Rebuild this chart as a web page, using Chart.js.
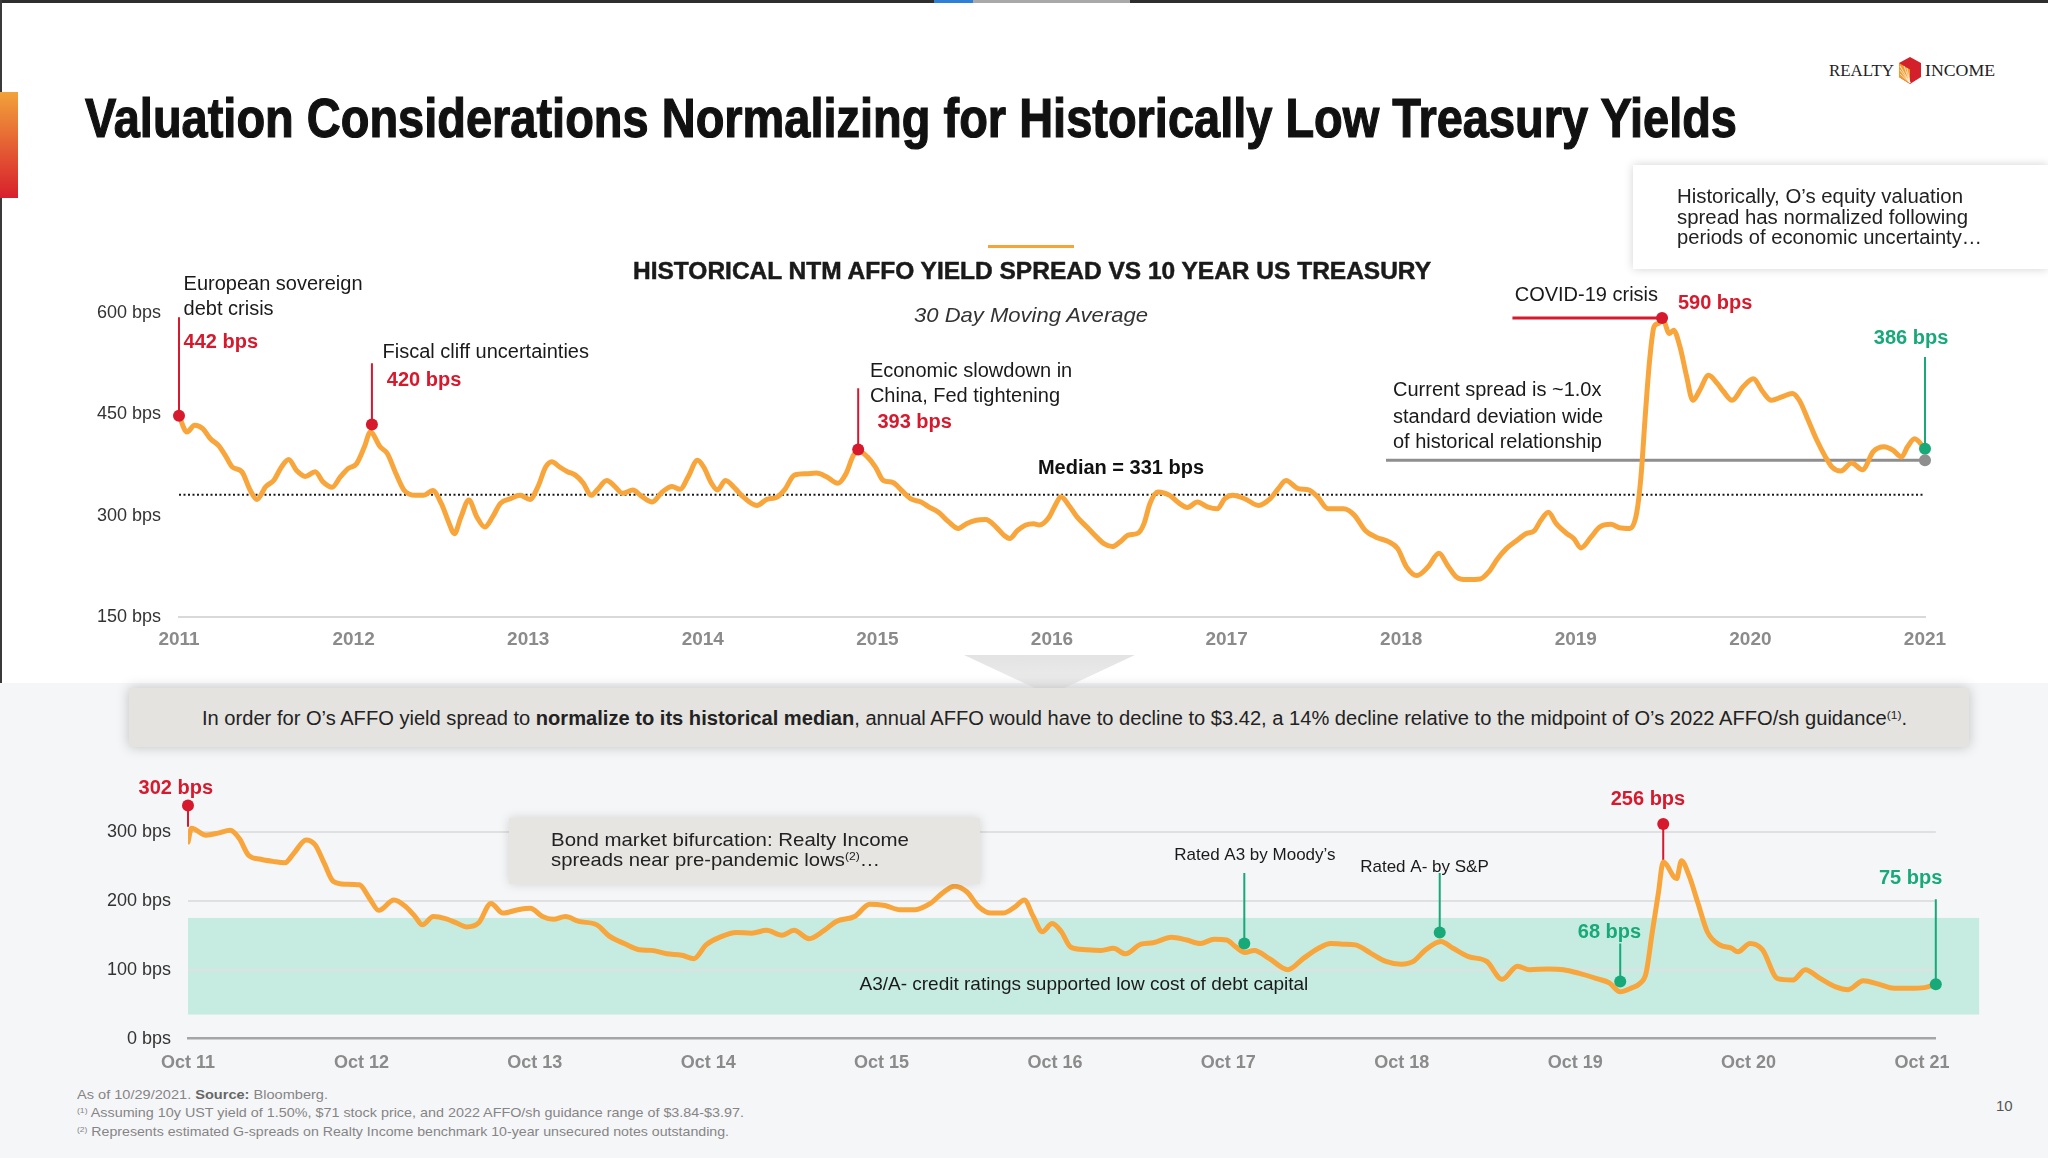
<!DOCTYPE html>
<html>
<head>
<meta charset="utf-8">
<script src="https://cdn.jsdelivr.net/npm/chart.js@4.4.1/dist/chart.umd.min.js"></script>
<style>
  html, body { margin: 0; padding: 0; }
  body {
    width: 2048px; height: 1158px; position: relative; overflow: hidden; background: #fff;
    font-family: "Liberation Sans", Arial, sans-serif; color: #1e1e1e;
  }
  .abs { position: absolute; }
  .t { position: absolute; white-space: nowrap; transform-origin: left center; }
  .t sup { font-size: 0.6em; vertical-align: 0.55em; line-height: 0; }
  .serif { font-family: "Liberation Serif", "DejaVu Serif", serif; }
  .chartbox { position: absolute; left: 0; width: 2048px; }
</style>
</head>
<body>

<!-- frame bits -->
<div class="abs" style="left:0;top:0;width:2048px;height:3px;background:#2e2e2e"></div>
<div class="abs" style="left:934px;top:0;width:39px;height:3px;background:#2f7fd6"></div>
<div class="abs" style="left:973px;top:0;width:157px;height:3px;background:#a9a9a9"></div>
<div class="abs" style="left:0;top:0;width:2px;height:686px;background:#3a3a3a"></div>
<div class="abs" style="left:0;top:92px;width:18px;height:106px;background:linear-gradient(#F2A23A,#D81F2D)"></div>

<!-- lower panel background, pointer and banner -->
<div class="abs" style="left:0;top:683px;width:2048px;height:475px;background:#F5F6F8"></div>
<div class="abs" style="left:964px;top:655px;width:171px;height:40px;background:linear-gradient(#e3e3e3,#efefef);clip-path:polygon(0 0,100% 0,50% 100%)"></div>
<div class="abs" style="left:129px;top:688px;width:1840px;height:59px;background:#E5E3E0;box-shadow:0 0 12px rgba(0,0,0,0.22)"></div>

<div class="chartbox" style="top:250px;height:420px"><canvas id="topChart"></canvas></div>
<div class="chartbox" style="top:754px;height:326px"><canvas id="bottomChart"></canvas></div>

<!-- title and logo -->
<div class="t" data-w="1652" style="left:85px;top:88px;font-size:55px;line-height:60px;font-weight:bold;color:#111;-webkit-text-stroke:1.2px #111">Valuation Considerations Normalizing for Historically Low Treasury Yields</div>
<div class="t serif" data-w="65" style="left:1829px;top:61px;font-size:16px;line-height:20px;color:#222">REALTY</div>
<svg class="abs" style="left:1899px;top:57px" width="22" height="27" viewBox="0 0 22 27">
  <polygon points="11,0 22,6 22,20 11,27 0,20 0,6" fill="#D4202A"/>
  <polygon points="0,6 11,12.5 11,27 0,20" fill="#F39A2C"/>
  <g stroke="#fff" stroke-width="0.7">
    <line x1="11" y1="26" x2="1" y2="9"/><line x1="11" y1="26" x2="1" y2="13"/>
    <line x1="11" y1="26" x2="1" y2="17"/><line x1="11" y1="26" x2="5" y2="9"/>
    <line x1="11" y1="26" x2="8" y2="11"/>
  </g>
</svg>
<div class="t serif" data-w="70" style="left:1925px;top:61px;font-size:16px;line-height:20px;color:#222">INCOME</div>

<!-- callout -->
<div class="abs" style="left:1633px;top:165px;width:415px;height:104px;background:#fff;box-shadow:0 0 9px rgba(0,0,0,0.18)"></div>
<div class="t" data-w="286" style="left:1677px;top:185px;font-size:19.5px;line-height:22px;color:#222">Historically, O’s equity valuation</div>
<div class="t" data-w="291" style="left:1677px;top:206px;font-size:19.5px;line-height:22px;color:#222">spread has normalized following</div>
<div class="t" data-w="305" style="left:1677px;top:226px;font-size:19.5px;line-height:22px;color:#222">periods of economic uncertainty…</div>

<!-- chart heading -->
<div class="abs" style="left:988px;top:245px;width:86px;height:3px;background:#F5A33B"></div>
<div class="t" data-w="798" style="left:633px;top:256px;font-size:24px;line-height:30px;font-weight:bold;color:#1a1a1a;-webkit-text-stroke:0.5px #1a1a1a">HISTORICAL NTM AFFO YIELD SPREAD VS 10 YEAR US TREASURY</div>
<div class="t" data-w="234" style="left:914px;top:302px;font-size:21px;line-height:26px;font-style:italic;color:#333">30 Day Moving Average</div>

<!-- banner text -->
<div class="t" data-w="1705" style="left:202px;top:706px;font-size:19.5px;line-height:24px;color:#222">In order for O’s AFFO yield spread to <b>normalize to its historical median</b>, annual AFFO would have to decline to $3.42, a 14% decline relative to the midpoint of O’s 2022 AFFO/sh guidance<sup>(1)</sup>.</div>

<!-- bond market box -->
<div class="abs" style="left:509px;top:818px;width:471px;height:66px;background:#E7E5E2;box-shadow:0 0 10px rgba(0,0,0,0.15)"></div>
<div class="t" data-w="358" style="left:551px;top:829px;font-size:19px;line-height:22px;color:#222">Bond market bifurcation: Realty Income</div>
<div class="t" data-w="329" style="left:551px;top:849px;font-size:19px;line-height:22px;color:#222">spreads near pre-pandemic lows<sup>(2)</sup>…</div>

<!-- footnotes -->
<div class="t" data-w="251" style="left:77px;top:1086px;font-size:13.5px;line-height:18px;color:#858585">As of 10/29/2021. <b style="color:#666">Source:</b> Bloomberg.</div>
<div class="t" data-w="667" style="left:77px;top:1104px;font-size:13.5px;line-height:18px;color:#858585"><sup>(1)</sup> Assuming 10y UST yield of 1.50%, $71 stock price, and 2022 AFFO/sh guidance range of $3.84-$3.97.</div>
<div class="t" data-w="652" style="left:77px;top:1123px;font-size:13.5px;line-height:18px;color:#858585"><sup>(2)</sup> Represents estimated G-spreads on Realty Income benchmark 10-year unsecured notes outstanding.</div>
<div class="t" style="left:1996px;top:1097px;font-size:15px;line-height:18px;color:#555">10</div>

<script>
// ---- top chart: NTM AFFO yield spread vs 10y UST, 30 day MA (bps) ----
var topYears = [
  2011, 2011.045, 2011.09, 2011.136, 2011.18, 2011.226, 2011.27, 2011.305, 2011.36, 2011.407, 2011.447, 2011.497,
  2011.542, 2011.587, 2011.628, 2011.673, 2011.723, 2011.78, 2011.825, 2011.877, 2011.926, 2011.97,
  2012.017, 2012.062, 2012.096, 2012.152, 2012.193, 2012.243, 2012.288, 2012.356, 2012.4, 2012.453, 2012.502,
  2012.548, 2012.577, 2012.615, 2012.66, 2012.706, 2012.751, 2012.796, 2012.841, 2012.898, 2012.954,
  2013.01, 2013.056, 2013.1, 2013.135, 2013.18, 2013.225, 2013.27, 2013.316, 2013.36, 2013.395, 2013.45,
  2013.497, 2013.54, 2013.6, 2013.643, 2013.71, 2013.768, 2013.824, 2013.87, 2013.915, 2013.97,
  2014.005, 2014.05, 2014.084, 2014.13, 2014.186, 2014.23, 2014.31, 2014.367, 2014.423, 2014.468, 2014.525,
  2014.593, 2014.65, 2014.706, 2014.774, 2014.82, 2014.864, 2014.898, 2014.943, 2014.989,
  2015.034, 2015.09, 2015.136, 2015.19, 2015.25, 2015.294, 2015.35, 2015.407, 2015.464, 2015.51, 2015.566,
  2015.62, 2015.68, 2015.724, 2015.758, 2015.803, 2015.85, 2015.894, 2015.928, 2015.984,
  2016.018, 2016.052, 2016.097, 2016.143, 2016.2, 2016.256, 2016.3, 2016.346, 2016.39, 2016.437, 2016.493,
  2016.527, 2016.561, 2016.606, 2016.674, 2016.73, 2016.776, 2016.833, 2016.89, 2016.946, 2016.99,
  2017.036, 2017.104, 2017.183, 2017.25, 2017.296, 2017.34, 2017.41, 2017.47, 2017.52, 2017.582, 2017.67,
  2017.73, 2017.794, 2017.856, 2017.93, 2017.98,
  2018.03, 2018.09, 2018.154, 2018.216, 2018.266, 2018.316, 2018.378, 2018.453, 2018.5, 2018.552, 2018.602,
  2018.652, 2018.714, 2018.764, 2018.8, 2018.843, 2018.888, 2018.95, 2018.988,
  2019.03, 2019.087, 2019.137, 2019.2, 2019.25, 2019.31, 2019.348, 2019.373, 2019.4, 2019.423, 2019.448,
  2019.473, 2019.5, 2019.535, 2019.56, 2019.597, 2019.635, 2019.67, 2019.71, 2019.76, 2019.81, 2019.846,
  2019.895, 2019.958,
  2020.017, 2020.07, 2020.12, 2020.18, 2020.24, 2020.28, 2020.33, 2020.38, 2020.43, 2020.467, 2020.517,
  2020.58, 2020.642, 2020.704, 2020.766, 2020.816, 2020.866, 2020.9, 2020.94, 2021
];
var topSpread = [
  448, 424, 434, 429, 414, 404, 387, 372, 365, 338, 324, 343,
  352, 372, 383, 367, 358, 365, 350, 342, 358, 370,
  377, 402, 424, 402, 392, 362, 338, 330, 330, 337, 318,
  288, 273, 298, 323, 298, 283, 298, 318, 325, 330,
  324, 343, 372, 380, 372, 365, 360, 348, 330, 338, 352,
  343, 333, 338, 330, 320, 335, 343, 339, 357, 382,
  372, 348, 338, 352, 340, 328, 315, 324, 327, 338, 360,
  362, 363, 358, 348, 362, 390, 395, 387, 372,
  352, 349, 338, 325, 320, 313, 305, 291, 281, 288, 293,
  294, 283, 271, 266, 278, 286, 288, 286, 298,
  315, 328, 315, 298, 283, 268, 258, 254, 261, 271, 274,
  288, 318, 335, 330, 318, 312, 320, 313, 310, 325,
  330, 325, 315, 325, 340, 352, 340, 338, 328, 310, 310,
  301, 278, 268, 261, 251,
  224, 211, 224, 244, 226, 209, 205, 206, 216, 236, 251,
  261, 273, 278, 293, 305, 288, 273, 266,
  252, 268, 283, 287, 282, 281, 303, 357, 456, 531, 580,
  585, 590, 570, 575, 550, 506, 471, 486, 508, 496, 484,
  471, 491,
  503, 484, 471, 476, 481, 471, 442, 412, 387, 372, 366,
  378, 368, 395, 402, 397, 387, 402, 414, 399
];
var topTickYears = [2011, 2012, 2013, 2014, 2015, 2016, 2017, 2018, 2019, 2020, 2021];
var topTickLabels = ['2011', '2012', '2013', '2014', '2015', '2016', '2017', '2018', '2019', '2020', '2021'];
var topYTicks = [150, 300, 450, 600];
var topMedian = 331;
var topStdLevel = 382;          // ~1.0x standard deviation wide line
var topStdFrom = 2017.913;
var topEventYears = [2011, 2012.105, 2014.89];   // European debt, fiscal cliff, China/Fed
var topEventDots = [448, 435, 398];
var topEventStemTops = [594, 526, 489];
var covidYear = 2019.494, covidDot = 593, covidLineFrom = 2018.637;
var currentYear = 2021, currentDot = 399, currentStemTop = 535;

// ---- bottom chart: Realty Income G-spread (bps), years since Oct 2011 ----
var bottomT = [
  0, 0.02, 0.104, 0.174, 0.244, 0.296, 0.349, 0.419, 0.489, 0.559, 0.611, 0.681, 0.733, 0.786, 0.838, 0.908, 0.988,
  1.048, 1.1, 1.188, 1.257, 1.31, 1.352, 1.415, 1.485, 1.555, 1.607, 1.677, 1.747, 1.817, 1.904, 1.974,
  2.044, 2.107, 2.177, 2.254, 2.358, 2.428, 2.516, 2.603, 2.673, 2.761, 2.848, 2.918, 2.988,
  3.075, 3.162, 3.25, 3.337, 3.425, 3.495, 3.582, 3.669, 3.739, 3.844, 3.932,
  4.019, 4.106, 4.194, 4.281, 4.351, 4.421, 4.491, 4.561, 4.63, 4.7, 4.77, 4.823, 4.875, 4.927, 4.984,
  5.037, 5.09, 5.178, 5.266, 5.337, 5.407, 5.496, 5.566, 5.672, 5.76, 5.838, 5.919, 5.99,
  6.043, 6.096, 6.149, 6.237, 6.343, 6.431, 6.52, 6.59, 6.66, 6.732, 6.82, 6.908, 6.996,
  7.067, 7.138, 7.226, 7.296, 7.385, 7.49, 7.579, 7.667, 7.738, 7.844, 7.932,
  8.02, 8.126, 8.197, 8.26, 8.32, 8.373, 8.409, 8.444, 8.48, 8.508, 8.585, 8.613, 8.656, 8.709, 8.762, 8.833, 8.903, 8.938,
  9.009, 9.08, 9.168, 9.256, 9.327, 9.415, 9.503, 9.574, 9.662, 9.75, 9.84, 9.927,
  10.015, 10.08
];
var bottomSpread = [
  285, 305, 295, 298, 302, 290, 266, 260, 257, 255, 269, 288, 281, 254, 228, 224, 223,
  203, 186, 201, 191, 177, 165, 177, 174, 167, 162, 168, 196, 182, 187, 189,
  177, 173, 177, 170, 165, 149, 138, 129, 128, 123, 121, 116, 136,
  148, 154, 153, 157, 150, 157, 145, 157, 170, 177, 195,
  193, 187, 187, 196, 211, 221, 213, 191, 182, 182, 191, 201, 177, 155, 167,
  155, 133, 129, 128, 131, 123, 137, 139, 147, 143, 138, 144, 143,
  133, 125, 128, 116, 100, 116, 131, 138, 137, 136, 124, 112, 108,
  112, 129, 141, 131, 119, 112, 86, 105, 100, 101, 100,
  95, 87, 81, 68, 73, 80, 95, 153, 211, 256, 232, 258, 237, 196, 155, 136, 131, 126,
  138, 129, 87, 85, 100, 87, 75, 71, 84, 79, 73, 73,
  74, 79
];
var bottomTickT = [0, 1, 2, 3, 4, 5, 6, 7, 8, 9, 10];
var bottomTickLabels = ['Oct 11', 'Oct 12', 'Oct 13', 'Oct 14', 'Oct 15', 'Oct 16', 'Oct 17', 'Oct 18', 'Oct 19', 'Oct 20', 'Oct 21'];
var bottomYTicks = [0, 100, 200, 300];
var ratingBand = [35, 175];       // A3/A- shaded range, bps
var ratingBandT = [0, 10.33];
var redMarkT = [0, 8.508], redMarkDots = [338, 311], redMarkStemEnds = [307, 256];
var greenMarkT = [6.092, 7.219, 8.26, 10.08], greenMarkDots = [138, 154, 83, 79], greenMarkStemTops = [240, 240, 138, 202];

var RED = '#D7192D', GREEN = '#17A978', ORANGE = '#F8A53C';
var FONT = '"Liberation Sans", Arial, sans-serif';
Chart.defaults.font.family = FONT;

function pts(xs, ys) {
  return xs.map(function(x, i) { return { x: x, y: ys[i] }; });
}
function segment(x0, y0, x1, y1, color, width, dash) {
  return { data: [{ x: x0, y: y0 }, { x: x1, y: y1 }], borderColor: color, borderWidth: width,
           borderDash: dash || [], pointRadius: 0, clip: false, order: 3 };
}
function dots(xs, ys, color) {
  return { data: pts(xs, ys), showLine: false, pointRadius: 6, pointBackgroundColor: color,
           pointBorderWidth: 0, clip: false, order: 0 };
}

// text notes placed in data coordinates
var notesPlugin = {
  id: 'notes',
  afterDatasetsDraw: function(chart, args, opts) {
    var ctx = chart.ctx, xs = chart.scales.x, ys = chart.scales.y;
    ctx.save();
    (opts.items || []).forEach(function(n) {
      ctx.font = (n.bold ? 'bold ' : '') + (n.size || 20) + 'px ' + FONT;
      ctx.fillStyle = n.color || '#1a1a1a';
      ctx.textAlign = n.align || 'left';
      ctx.textBaseline = 'middle';
      ctx.fillText(n.text, xs.getPixelForValue(n.x), ys.getPixelForValue(n.y));
    });
    ctx.restore();
  }
};

var bandPlugin = {
  id: 'band',
  beforeDraw: function(chart, args, opts) {
    if (!opts.range) return;
    var ctx = chart.ctx, xs = chart.scales.x, ys = chart.scales.y;
    var x0 = xs.getPixelForValue(opts.x[0]), x1 = xs.getPixelForValue(opts.x[1]);
    var y0 = ys.getPixelForValue(opts.range[1]), y1 = ys.getPixelForValue(opts.range[0]);
    ctx.save();
    ctx.fillStyle = opts.color;
    ctx.fillRect(x0, y0, x1 - x0, y1 - y0);
    ctx.restore();
  }
};

function makeOptions(c) {
  return {
    responsive: true, maintainAspectRatio: false, animation: false,
    layout: { padding: c.padding },
    plugins: { legend: { display: false }, tooltip: { enabled: false },
               notes: { items: c.notes }, band: c.band || {} },
    scales: {
      x: {
        type: 'linear', min: c.xmin, max: c.xmax,
        afterFit: function(s) { s.height = c.xAxisHeight; },
        afterBuildTicks: function(s) { s.ticks = c.xTicks.map(function(v) { return { value: v }; }); },
        ticks: { callback: function(v, i) { return c.xLabels[i]; }, color: '#8b8b8b', padding: c.xPad,
                 font: { size: c.xFont, weight: 'bold' }, maxRotation: 0, autoSkip: false },
        grid: { display: false, drawTicks: false },
        border: { display: true, color: c.xBorder, width: c.xBorderWidth }
      },
      y: {
        min: c.ymin, max: c.ymax,
        afterFit: function(s) { s.width = c.yAxisWidth; },
        afterBuildTicks: function(s) { s.ticks = c.yTicks.map(function(v) { return { value: v }; }); },
        ticks: { callback: function(v) { return v + ' bps'; }, color: '#333',
                 padding: c.yPad, font: { size: 18 } },
        grid: { display: c.yGrid, drawTicks: false, lineWidth: 2,
                color: function(ctx) { return ctx.tick && ctx.tick.value === 0 ? 'rgba(0,0,0,0)' : '#e0e0e0'; } },
        border: { display: false }
      }
    }
  };
}

// ---- top chart ----
var topDatasets = [
  { data: pts(topYears, topSpread), borderColor: ORANGE, borderWidth: 5, pointRadius: 0,
    cubicInterpolationMode: 'monotone', borderCapStyle: 'round', borderJoinStyle: 'round', order: 2 },
  segment(topTickYears[0], topMedian, topTickYears[topTickYears.length - 1], topMedian, '#1a1a1a', 2, [2, 2.5]),
  segment(topStdFrom, topStdLevel, currentYear, topStdLevel, '#8e8e8e', 3),
  segment(covidLineFrom, covidDot, covidYear, covidDot, RED, 3),
  segment(currentYear, currentStemTop, currentYear, currentDot, GREEN, 2)
];
topEventYears.forEach(function(x, i) {
  topDatasets.push(segment(x, topEventStemTops[i], x, topEventDots[i], RED, 2));
});
topDatasets.push(dots(topEventYears.concat([covidYear]), topEventDots.concat([covidDot]), RED));
topDatasets.push(dots([currentYear], [topStdLevel], '#8e8e8e'));
topDatasets.push(dots([currentYear], [currentDot], GREEN));

new Chart(document.getElementById('topChart'), {
  type: 'line',
  data: { datasets: topDatasets },
  plugins: [notesPlugin, bandPlugin],
  options: makeOptions({
    padding: { left: 0, right: 123, top: 63.3, bottom: 13.3 },
    xmin: 2011, xmax: 2021, xTicks: topTickYears, xLabels: topTickLabels, xFont: 19, xPad: 12,
    xAxisHeight: 40, xBorder: '#d9d9d9', xBorderWidth: 2,
    ymin: 150, ymax: 600, yTicks: topYTicks, yAxisWidth: 179, yPad: 18, yGrid: false,
    notes: [
      { x: 2011.026, y: 643, text: 'European sovereign' },
      { x: 2011.026, y: 606, text: 'debt crisis' },
      { x: 2011.026, y: 556, text: '442 bps', bold: true, color: RED },
      { x: 2012.166, y: 541.5, text: 'Fiscal cliff uncertainties' },
      { x: 2012.19, y: 500, text: '420 bps', bold: true, color: RED },
      { x: 2014.957, y: 514, text: 'Economic slowdown in' },
      { x: 2014.957, y: 476, text: 'China, Fed tightening' },
      { x: 2015.0, y: 438, text: '393 bps', bold: true, color: RED },
      { x: 2016.395, y: 370, text: 'Median = 331 bps', bold: true, color: '#111', align: 'center' },
      { x: 2018.65, y: 626, text: 'COVID-19 crisis' },
      { x: 2019.585, y: 615, text: '590 bps', bold: true, color: RED },
      { x: 2017.953, y: 485, text: 'Current spread is ~1.0x' },
      { x: 2017.953, y: 446, text: 'standard deviation wide' },
      { x: 2017.953, y: 408, text: 'of historical relationship' },
      { x: 2020.92, y: 562, text: '386 bps', bold: true, color: GREEN, align: 'center' }
    ]
  })
});

// ---- bottom chart ----
var bottomDatasets = [
  { data: pts(bottomT, bottomSpread), borderColor: ORANGE, borderWidth: 5, pointRadius: 0,
    cubicInterpolationMode: 'monotone', borderCapStyle: 'round', borderJoinStyle: 'round', order: 2 }
];
redMarkT.forEach(function(x, i) {
  bottomDatasets.push(segment(x, redMarkDots[i], x, redMarkStemEnds[i], RED, 2));
});
greenMarkT.forEach(function(x, i) {
  bottomDatasets.push(segment(x, greenMarkStemTops[i], x, greenMarkDots[i], GREEN, 2));
});
bottomDatasets.push(dots(redMarkT, redMarkDots, RED));
bottomDatasets.push(dots(greenMarkT, greenMarkDots, GREEN));

// y range runs above the 300 bps gridline so the marker dots sit inside the plot area
new Chart(document.getElementById('bottomChart'), {
  type: 'line',
  data: { datasets: bottomDatasets },
  plugins: [notesPlugin, bandPlugin],
  options: makeOptions({
    padding: { left: 0, right: 112.2, top: 29.4, bottom: 5.3 },
    xmin: 0, xmax: 10.08, xTicks: bottomTickT, xLabels: bottomTickLabels, xFont: 18, xPad: 14,
    xAxisHeight: 36, xBorder: '#a5a5a5', xBorderWidth: 2.5,
    ymin: 0, ymax: 370, yTicks: bottomYTicks, yAxisWidth: 188, yPad: 17, yGrid: true,
    band: { range: ratingBand, x: ratingBandT, color: '#C6EBE0' },
    notes: [
      { x: -0.07, y: 363, text: '302 bps', bold: true, color: RED, align: 'center' },
      { x: 6.153, y: 266, text: 'Rated A3 by Moody’s', size: 17, align: 'center' },
      { x: 7.131, y: 249, text: 'Rated A- by S&P', size: 17, align: 'center' },
      { x: 8.198, y: 154, text: '68 bps', bold: true, color: GREEN, align: 'center' },
      { x: 8.42, y: 346, text: '256 bps', bold: true, color: RED, align: 'center' },
      { x: 9.935, y: 232, text: '75 bps', bold: true, color: GREEN, align: 'center' },
      { x: 5.167, y: 78, text: 'A3/A- credit ratings supported low cost of debt capital', size: 19, align: 'center' }
    ]
  })
});

// squeeze/stretch html text lines to the measured widths
document.querySelectorAll('[data-w]').forEach(function(el) {
  var w = el.getBoundingClientRect().width;
  el.style.transform = 'scaleX(' + (parseFloat(el.dataset.w) / w) + ')';
});
</script>
</body>
</html>
